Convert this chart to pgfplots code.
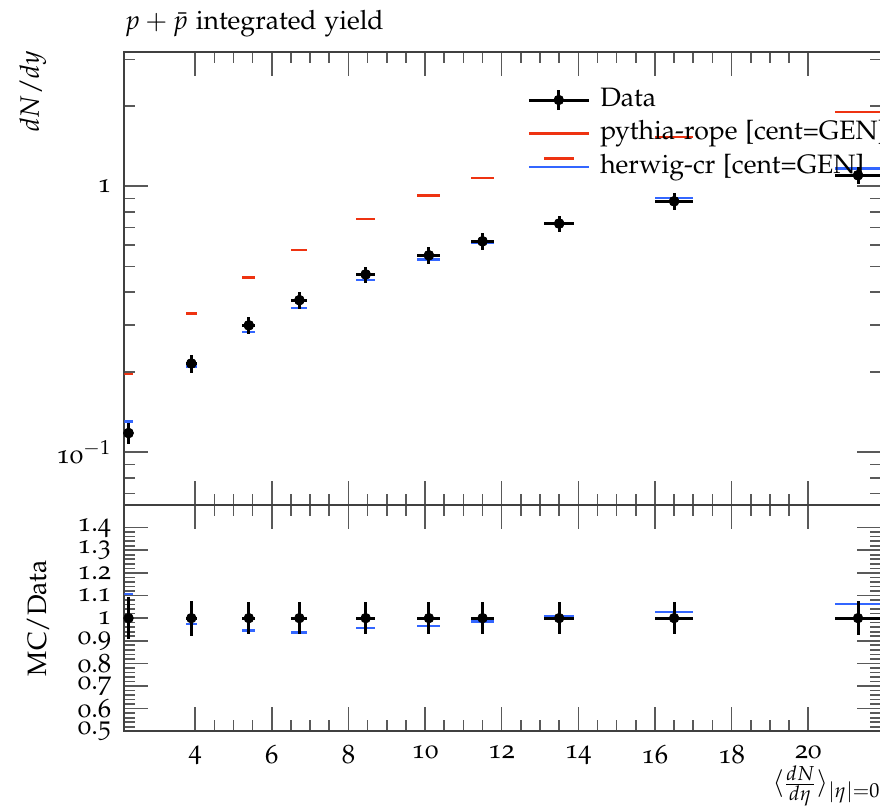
\documentclass[border=0pt]{standalone}
\usepackage[T1]{fontenc}
\usepackage[osf]{mathpazo}
\usepackage{pgfplots}
\usepackage{pgfplotstable}
\pgfplotsset{compat=1.18}

\definecolor{mcred}{HTML}{EE3311}
\definecolor{mcblue}{HTML}{3366FF}

% x = <dN/deta>, xe = half bin width
\pgfplotstableread{
x     xe    y      ye
2.26  0.12  0.118  0.011
3.90  0.14  0.2155 0.0166
5.40  0.17  0.300  0.0213
6.72  0.21  0.373  0.0265
8.45  0.25  0.466  0.033
10.1  0.30  0.550  0.039
11.5  0.30  0.621  0.044
13.5  0.40  0.724  0.051
16.5  0.50  0.878  0.062
21.3  0.60  1.100  0.082
}\datatab

\pgfplotstableread{
x     xe    y
2.26  0.12  0.197
3.90  0.14  0.332
5.40  0.17  0.4535
6.72  0.21  0.577
8.45  0.25  0.753
10.1  0.30  0.922
11.5  0.30  1.072
13.5  0.40  1.269
16.5  0.50  1.531
21.3  0.60  1.902
}\pythiatab

\pgfplotstableread{
x     xe    y      r
2.26  0.12  0.1305 1.106
3.90  0.14  0.210  0.975
5.40  0.17  0.2835 0.945
6.72  0.21  0.349  0.936
8.45  0.25  0.445  0.956
10.1  0.30  0.531  0.965
11.5  0.30  0.612  0.985
13.5  0.40  0.729  1.007
16.5  0.50  0.903  1.028
21.3  0.60  1.168  1.062
}\herwigtab

\pgfplotstableread{
x     xe    r  re
2.26  0.12  1  0.093
3.90  0.14  1  0.077
5.40  0.17  1  0.071
6.72  0.21  1  0.071
8.45  0.25  1  0.071
10.1  0.30  1  0.071
11.5  0.30  1  0.071
13.5  0.40  1  0.071
16.5  0.50  1  0.071
21.3  0.60  1  0.075
}\ratiotab

\pgfplotsset{
  rivet/.style={
    scale only axis, width=378.35pt,
    xmin=2.15, xmax=21.9,
    xtick={4,6,...,20}, minor x tick num=3,
    tick align=inside, xtick pos=both, ytick pos=both,
    major tick length=12pt, minor tick length=5.5pt,
    tick style={black!65, line width=0.8pt},
    axis line style={black!75, line width=0.8pt},
    font=\fontsize{13.3}{15.5}\selectfont,
    yticklabel shift=3pt, xticklabel shift=3.5pt,
  },
  % MC histograms: horizontal bin lines only, no marker
  mcbins/.style={line width=1.25pt, only marks, mark=text, text mark={},
    error bars/x dir=both, error bars/x explicit, error bars/error mark=none,
    error bars/error bar style={line width=1.25pt}},
  databins/.style={black, only marks, mark=*, mark size=2.4pt,
    error bars/x dir=both, error bars/x explicit,
    error bars/y dir=both, error bars/y explicit,
    error bars/error mark=none, error bars/error bar style={line width=1.5pt}},
}

\begin{document}
\begin{tikzpicture}
\begin{scope}
\clip (-62.15pt,-37.35pt) rectangle (377.85pt,365.65pt);

\begin{axis}[rivet,
  name=main, at={(0pt,113.15pt)}, anchor=south west,
  height=226.35pt,
  ymode=log, ymin=0.0633, ymax=3.19,
  ytick={0.1,1}, yticklabels={10$^{-1}$,1},
  minor ytick={0.07,0.08,0.09,0.2,0.3,0.4,0.5,0.6,0.7,0.8,0.9,2,3},
  xticklabels={},
  every axis title shift=0pt,
  title={$p+\bar{p}$ integrated yield},
  title style={at={(axis description cs:0,1)}, anchor=base west, inner sep=0pt, yshift=11.5pt},
  ylabel={$dN/dy$},
  ylabel style={at={(axis description cs:-0.1207,1.005)}, anchor=east, inner sep=0pt},
  legend style={draw=none, fill=none, at={(axis description cs:0.532,0.922)}, anchor=north west,
    inner sep=0pt, row sep=4.8pt, legend cell align=left,
    nodes={inner sep=0pt, text height=9pt, text depth=3pt},
    /tikz/every odd column/.append style={column sep=5pt}},
]
\addplot[databins,
  legend image code/.code={
    \draw[line width=1.5pt] (0pt,0pt) -- (30pt,0pt);
    \draw[line width=1.5pt] (15pt,-5pt) -- (15pt,5pt);
    \fill (15pt,0pt) circle (2.4pt);}]
  table[x=x, y=y, x error=xe, y error=ye]{\datatab};
\addlegendentry{Data}
\addplot[mcred, mcbins,
  legend image code/.code={\draw[mcred, line width=1.25pt] (0pt,0pt) -- (30pt,0pt);}]
  table[x=x, y=y, x error=xe]{\pythiatab};
\addlegendentry{pythia-rope [cent=GEN]}
\addplot[mcblue, mcbins,
  legend image code/.code={\draw[mcblue, line width=1.25pt] (0pt,0pt) -- (30pt,0pt);}]
  table[x=x, y=y, x error=xe]{\herwigtab};
\addlegendentry{herwig-cr [cent=GEN]}
\addplot[databins, forget plot]
  table[x=x, y=y, x error=xe, y error=ye]{\datatab};
\end{axis}

\begin{axis}[rivet,
  name=ratio, at={(0pt,0pt)}, anchor=south west,
  height=113.15pt,
  ymin=0.5, ymax=1.5,
  ytick={0.5,0.6,0.7,0.8,0.9,1,1.1,1.2,1.3,1.4},
  yticklabels={0.5,0.6,0.7,0.8,0.9,1,1.1,1.2,1.3,1.4},
  minor y tick num=4,
  xticklabels={4,6,8,10,12,14,16,18,20},
  xlabel={$\langle\frac{dN}{d\eta}\rangle_{|\eta|=0}$},
  xlabel style={at={(axis description cs:1,0)}, anchor=north east, inner sep=0pt, yshift=-17pt},
  ylabel={MC/Data},
  ylabel style={at={(axis description cs:-0.114,0.5)}, anchor=center, inner sep=0pt},
]
\addplot[mcblue, mcbins] table[x=x, y=r, x error=xe]{\herwigtab};
\addplot[databins] table[x=x, y=r, x error=xe, y error=re]{\ratiotab};
\end{axis}
\end{scope}

\pgfresetboundingbox
\useasboundingbox (-62.15pt,-37.35pt) rectangle (377.85pt,365.65pt);
\end{tikzpicture}
\end{document}
